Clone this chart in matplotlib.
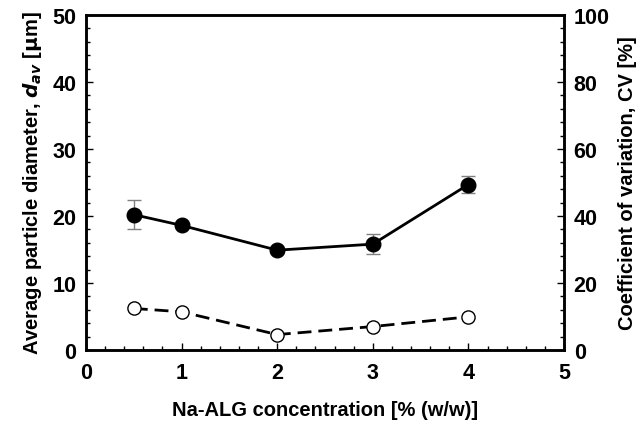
import matplotlib
matplotlib.use("Agg")
import matplotlib.pyplot as plt
from matplotlib.ticker import MultipleLocator

plt.rcParams["font.family"] = ["Liberation Sans", "DejaVu Sans"]
plt.rcParams["font.weight"] = "bold"

conc = [0.5, 1, 2, 3, 4]
d_av = [20.2, 18.6, 14.9, 15.8, 24.7]
d_err = [2.2, 0.4, 0.4, 1.5, 1.2]
cv = [12.4, 11.4, 4.6, 7.0, 9.9]

fig = plt.figure(figsize=(6.39, 4.31), dpi=100)
ax = fig.add_axes([86 / 639, 1 - 351 / 431, (564 - 86) / 639, (351 - 16) / 431])
ax2 = ax.twinx()

ax.errorbar(conc, d_av, yerr=d_err, color="black", lw=2, marker="o", ms=10.5,
            ecolor="#808080", elinewidth=1, capsize=5, capthick=1, zorder=3)
ax2.plot(conc, cv, color="black", lw=2, ls=(0, (5, 2.5)), marker="o", ms=9.5,
         mfc="white", mec="black", mew=1)

ax.set_xlim(0, 5)
ax.set_ylim(0, 50)
ax2.set_ylim(0, 100)
ax.xaxis.set_major_locator(MultipleLocator(1))
ax.xaxis.set_minor_locator(MultipleLocator(0.2))
ax.yaxis.set_major_locator(MultipleLocator(10))
ax.yaxis.set_minor_locator(MultipleLocator(2))
ax2.yaxis.set_major_locator(MultipleLocator(20))
ax2.yaxis.set_minor_locator(MultipleLocator(4))

for a in (ax, ax2):
    for s in a.spines.values():
        s.set_linewidth(1.8)
    a.tick_params(which="both", direction="in", width=1, labelsize=15.5)
    a.tick_params(which="major", length=5)
    a.tick_params(which="minor", length=3)
ax.tick_params(axis="x", pad=9)
ax.tick_params(axis="y", pad=7)
ax2.tick_params(axis="y", pad=7)
ax.tick_params(axis="y", which="both", right=False)
ax2.tick_params(axis="y", which="both", left=False)

ax.set_xlabel("Na-ALG concentration [% (w/w)]", fontsize=14.5, fontweight="bold", labelpad=12)
ax.set_ylabel(r"Average particle diameter, $\boldsymbol{d}_{\boldsymbol{av}}$ [$\mathbf{\mu}$m]",
              fontsize=14.5, fontweight="bold", labelpad=6)
ax2.set_ylabel("Coefficient of variation, CV [%]", fontsize=14.5, fontweight="bold", labelpad=6)

fig.savefig("out.png", dpi=100)
